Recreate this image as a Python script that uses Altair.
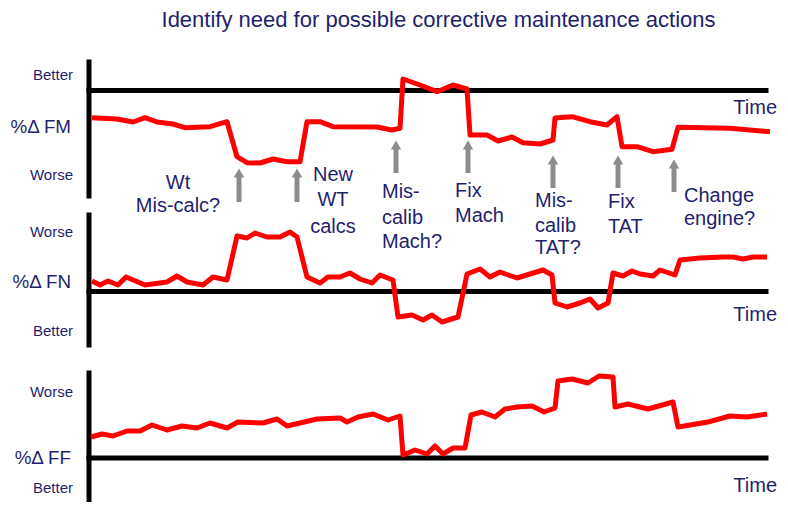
import altair as alt
import pandas as pd

# ---------------- data ----------------
# time (arbitrary units from the vertical axis), value (offset from the zero line, up = positive)
fm_t = [3, 28, 44, 56, 68, 84, 96, 121, 138, 148, 158, 171, 184, 198, 211, 218, 231, 244, 288, 303,
        311, 314, 331, 348, 364, 378, 381, 398, 409, 423, 434, 451, 464, 466, 483, 501, 518, 528, 533,
        548, 564, 583, 589, 641, 681]
fm_v = [-27.2, -28.5, -31.5, -27.2, -31.5, -33.5, -37.2, -36.2, -31.2, -66.2, -72.2, -72.5, -68.5,
        -71.2, -71.2, -31.2, -31.2, -36.2, -36.5, -39.5, -37.8, 11.5, 5.5, -1.2, 5.5, 1.5, -44.5,
        -44.5, -50.5, -46.5, -52.2, -53.5, -49.5, -27.5, -26.2, -31.2, -34.5, -26.2, -56.2, -56.2,
        -61.2, -58.8, -36.8, -37.8, -41.2]

fn_t = [3, 11, 19, 29, 37, 56, 78, 88, 98, 114, 124, 138, 148, 158, 166, 178, 191, 201, 208, 218,
        231, 239, 251, 261, 271, 283, 291, 304, 309, 323, 334, 343, 353, 369, 378, 391, 401, 411,
        428, 441, 454, 463, 466, 478, 491, 501, 509, 519, 524, 534, 543, 551, 564, 571, 586, 591,
        611, 634, 644, 654, 664, 678]
fn_v = [10.5, 6.5, 10.5, 6.5, 14.5, 6.5, 9.5, 15.5, 9.5, 6.5, 14.5, 11.5, 55.5, 53.5, 58.5, 54.5,
        54.5, 59.5, 54.5, 14.5, 8.5, 14.5, 14.5, 18.5, 12.5, 8.5, 16.5, 11.5, -25.5, -23.5, -28.5,
        -23.5, -30.5, -25.5, 17.5, 22.5, 14.5, 19.5, 13.5, 17.5, 21.5, 16.5, -11.5, -15.5, -11.5,
        -7.5, -16.5, -11.5, 18.5, 15.5, 20.5, 17.5, 15.5, 21.5, 16.5, 31.5, 33.5, 34.5, 34.5, 32.5,
        34.5, 34.5]

ff_t = [2, 13, 24, 38, 51, 63, 78, 93, 108, 121, 138, 149, 174, 188, 198, 211, 228, 251, 258, 269,
        284, 299, 311, 314, 326, 338, 346, 354, 364, 376, 382, 393, 406, 416, 428, 443, 455, 466,
        469, 483, 499, 510, 524, 526, 539, 559, 584, 589, 619, 641, 658, 678]
ff_v = [21, 24, 22, 27, 27, 33, 28, 32, 30, 35, 30, 36, 35, 39, 32, 35, 39, 40, 36, 41, 44, 38, 42,
        3, 8, 4, 12, 4, 10, 10, 43, 46, 41, 49, 51, 52, 46, 50, 77, 79, 75, 82, 81, 51, 54, 49, 56,
        31, 36, 42, 41, 44]

panel_names = ["FM", "FN", "FF"]
y_labels = ["%\u0394 FM", "%\u0394 FN", "%\u0394 FF"]
top_words = ["Better", "Worse", "Worse"]
bottom_words = ["Worse", "Better", "Better"]
title_text = "Identify need for possible corrective maintenance actions"

event_times = [150, 208, 307, 379, 464, 529, 585]
event_lines = [["Wt", "Mis-calc?"], ["New", "WT", "calcs"], ["Mis-", "calib", "Mach?"],
               ["Fix", "Mach"], ["Mis-", "calib", "TAT?"], ["Fix", "TAT"], ["Change", "engine?"]]

# ---------------- layout (screen units) ----------------
X0 = 89                                   # vertical axis position
baselines = [90.5, 291.5, 458]            # zero line of each panel
axis_top = [62, 215, 373]
axis_bottom = [196, 345, 507]
axis_right = 766
left_label_y = [(75, 127, 175), (232, 282, 331), (392, 458, 488)]
time_label_y = [108, 315, 486]
arrow_tip = [168, 168, 140, 140, 155, 155, 159]
arrow_bottom = [202, 202, 173, 173, 188, 188, 192]
ann_x = [178, 333, 382, 455, 535, 608, 684]
ann_align = ["center", "center", "left", "left", "left", "left", "left"]
ann_y0 = [183, 175, 192, 191, 201, 202, 196]
ann_dy = [[0, 23], [0, 25, 52], [0, 26, 50], [0, 25], [0, 25, 47], [0, 25], [0, 23]]

NAVY = "#1f1f6e"
RED = "#ff0000"
GREY = "#8c8c8c"

xs = alt.Scale(domain=[8, 780], nice=False, zero=False)
ys = alt.Scale(domain=[8, 502], nice=False, zero=False, reverse=True)

# series
rows = []
for name, base, ts, vs in zip(panel_names, baselines, [fm_t, fn_t, ff_t], [fm_v, fn_v, ff_v]):
    for t, v in zip(ts, vs):
        rows.append({"series": name, "X": X0 + t, "Y": base - v})
series_df = pd.DataFrame(rows)

# axes
ax_rows = []
for i in range(3):
    ax_rows.append({"x": X0, "x2": X0, "y": axis_top[i], "y2": axis_bottom[i]})
    ax_rows.append({"x": X0, "x2": axis_right, "y": baselines[i], "y2": baselines[i]})
axes_df = pd.DataFrame(ax_rows)

# arrows
arrow_df = pd.DataFrame({"x": [X0 + t for t in event_times], "tip": arrow_tip, "bottom": arrow_bottom})
arrow_df["shaft_top"] = arrow_df["tip"] + 8
arrow_df["head"] = arrow_df["tip"] + 5

# texts
txt_rows = []
for i in range(3):
    ya, yb, yc = left_label_y[i]
    txt_rows.append({"x": 73, "y": ya, "text": top_words[i], "size": 15, "align": "right"})
    txt_rows.append({"x": 71, "y": yb, "text": y_labels[i], "size": 18.8, "align": "right"})
    txt_rows.append({"x": 73, "y": yc, "text": bottom_words[i], "size": 15, "align": "right"})
    txt_rows.append({"x": 777, "y": time_label_y[i], "text": "Time", "size": 20, "align": "right"})
for k, lines in enumerate(event_lines):
    for j, line in enumerate(lines):
        txt_rows.append({"x": ann_x[k], "y": ann_y0[k] + ann_dy[k][j], "text": line, "size": 20,
                         "align": ann_align[k]})
txt_df = pd.DataFrame(txt_rows)

layers = []
layers.append(
    alt.Chart(axes_df).mark_rule(color="black", strokeWidth=5, strokeCap="square").encode(
        x=alt.X("x:Q", scale=xs, axis=None), x2="x2:Q",
        y=alt.Y("y:Q", scale=ys, axis=None), y2="y2:Q")
)
layers.append(
    alt.Chart(series_df).mark_line(color=RED, strokeWidth=5, strokeJoin="round").encode(
        x=alt.X("X:Q", scale=xs, axis=None), y=alt.Y("Y:Q", scale=ys, axis=None),
        detail="series:N")
)
layers.append(
    alt.Chart(arrow_df).mark_rule(color=GREY, strokeWidth=5).encode(
        x=alt.X("x:Q", scale=xs, axis=None), y=alt.Y("shaft_top:Q", scale=ys, axis=None),
        y2="bottom:Q")
)
layers.append(
    alt.Chart(arrow_df).mark_point(shape="triangle-up", filled=True, color=GREY, opacity=1,
                                   size=110).encode(
        x=alt.X("x:Q", scale=xs, axis=None), y=alt.Y("head:Q", scale=ys, axis=None))
)
for al in ["left", "center", "right"]:
    sub = txt_df[txt_df["align"] == al]
    if len(sub) == 0:
        continue
    layers.append(
        alt.Chart(sub).mark_text(align=al, baseline="middle", font="Liberation Sans",
                                 color=NAVY).encode(
            x=alt.X("x:Q", scale=xs, axis=None), y=alt.Y("y:Q", scale=ys, axis=None),
            text="text:N", size=alt.Size("size:Q", scale=None, legend=None))
    )
title_df = pd.DataFrame({"x": [438.5], "y": [20], "text": [title_text]})
layers.append(
    alt.Chart(title_df).mark_text(align="center", baseline="middle", font="Liberation Sans",
                                  fontSize=22, color=NAVY).encode(
        x=alt.X("x:Q", scale=xs, axis=None), y=alt.Y("y:Q", scale=ys, axis=None), text="text:N")
)

chart = alt.layer(*layers).properties(
    width=772, height=494, padding=0,
    autosize=alt.AutoSizeParams(type="none"),
    background="white",
).configure_view(stroke=None)

chart.save("out.html", embed_options={"renderer": "svg", "actions": False})
